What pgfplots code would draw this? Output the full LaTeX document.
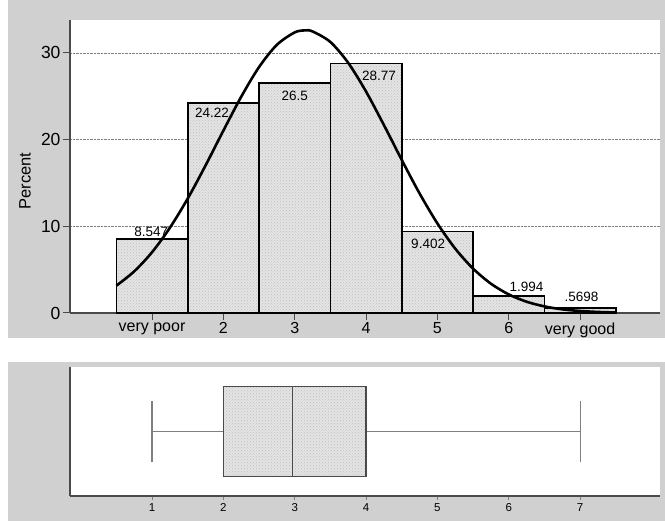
\documentclass[border=0pt]{standalone}
\usepackage{fontspec}
\setmainfont{Liberation Sans}
\usepackage{pgfplots}
\pgfplotsset{compat=1.18}
\usepgfplotslibrary{statistics}
\usetikzlibrary{patterns}
\definecolor{bggray}{HTML}{D0D0D0}
\definecolor{axgray}{HTML}{4A4A4A}
\definecolor{barfill}{HTML}{E4E4E4}
\pgfplotstableread{
x y
1 8.547
2 24.22
3 26.5
4 28.77
5 9.402
6 1.994
7 0.5698
}\histdata
\pgfplotstableread{
x y
0.5 3.15
0.75 4.80
1.0 7.01
1.25 9.83
1.5 13.20
1.75 17.02
2.0 21.04
2.25 24.95
2.5 28.37
2.75 30.94
3.0 32.37
3.145 32.6
3.25 32.48
3.5 31.26
3.75 28.85
4.0 25.54
4.25 21.68
4.5 17.66
4.75 13.79
5.0 10.33
5.25 7.42
5.5 5.12
5.75 3.38
6.0 2.14
6.25 1.30
6.5 0.76
6.75 0.42
7.0 0.23
7.25 0.12
7.5 0.06
}\normdata
\begin{document}
\begin{tikzpicture}[x=1pt,y=1pt]
\path[fill=white] (0,0) rectangle (665,521);
\fill[bggray] (8,183) rectangle (665,521);
\fill[bggray] (8,0) rectangle (665,159);
\begin{axis}[
  at={(70pt,208pt)}, anchor=south west,
  width=590pt, height=293pt, scale only axis,
  xmin=-0.15, xmax=8.12, ymin=0, ymax=33.8,
  axis background/.style={fill=white},
  axis lines*=left,
  axis line style={axgray, line width=1.6pt},
  tick align=outside, major tick length=7pt,
  tick style={axgray, line width=1pt},
  xtick={1,2,3,4,5,6,7},
  xticklabels={very poor,2,3,4,5,6,very good},
  ytick={0,10,20,30},
  ymajorgrids, grid style={densely dotted, gray, line width=0.7pt},
  xticklabel style={font=\fontsize{16}{18}\selectfont, text=black, yshift=1pt},
  yticklabel style={font=\fontsize{17.5}{20}\selectfont, text=black, xshift=1pt},
  /pgf/number format/assume math mode=true,
  ylabel={Percent},
  ylabel style={font=\fontsize{16.5}{18}\selectfont, at={(axis description cs:-0.0763,0.45)}, anchor=center},
  clip=false,
]
\addplot[ybar, bar width=1, draw=none, fill=barfill,
  postaction={pattern=crosshatch dots, pattern color=gray!50}] table[x=x,y=y] {\histdata};
\addplot[ybar, bar width=1, draw=black, line width=1.6pt, fill=none] table[x=x,y=y] {\histdata};
\addplot[black, line width=2.6pt, smooth] table[x=x,y=y] {\normdata};
\begin{scope}[font=\fontsize{13.5}{15}\selectfont]
\node at (axis cs:0.99,9.35) {8.547};
\node at (axis cs:1.84,23.1) {24.22};
\node at (axis cs:3.0,25.06) {26.5};
\node at (axis cs:4.18,27.4) {28.77};
\node at (axis cs:4.87,7.95) {9.402};
\node at (axis cs:6.25,3.0) {1.994};
\node at (axis cs:7.02,1.85) {.5698};
\end{scope}
\end{axis}
\begin{axis}[
  at={(70pt,25pt)}, anchor=south west,
  width=590pt, height=129pt, scale only axis,
  xmin=-0.15, xmax=8.12, ymin=0, ymax=1,
  axis background/.style={fill=white},
  axis lines*=left,
  axis line style={axgray, line width=1.6pt},
  tick align=outside, major tick length=4pt,
  tick style={gray, line width=0.8pt},
  xtick={1,2,3,4,5,6,7},
  ytick=\empty,
  tick label style={font=\fontsize{11.5}{14}\selectfont, text=black},
  /pgf/number format/assume math mode=true,
  boxplot/every whisker/.style={draw=gray, line width=1.2pt},
  boxplot/every median/.style={draw=axgray, line width=1.5pt},
  boxplot/every box/.style={fill=barfill, postaction={pattern=crosshatch dots, pattern color=gray!50}},
]
\addplot[boxplot prepared={lower whisker=1, lower quartile=2, median=2.97,
  upper quartile=4, upper whisker=7, draw position=0.5,
  box extend=0.7, whisker extend=0.48},
  draw=axgray, line width=1.4pt] coordinates {};
\end{axis}
\end{tikzpicture}
\end{document}
